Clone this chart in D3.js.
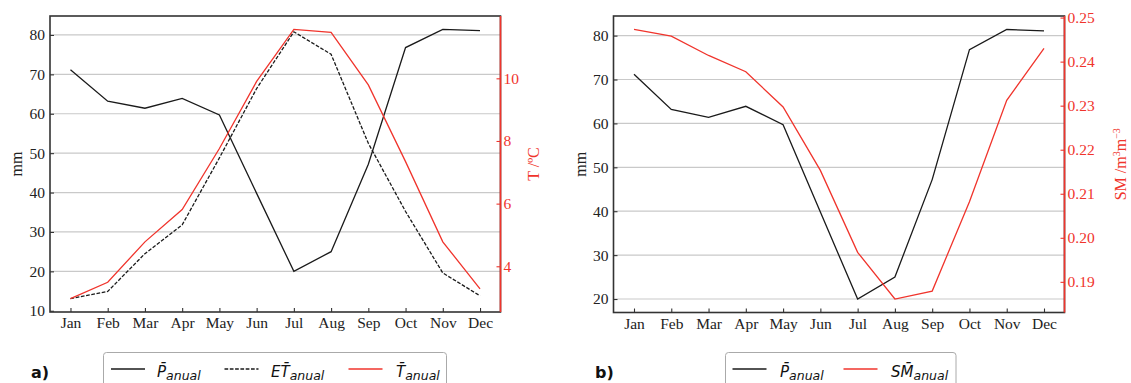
<!DOCTYPE html>
<html>
<head>
<meta charset="utf-8">
<script src="https://cdn.jsdelivr.net/npm/d3@7"></script>
<style>
html,body{margin:0;padding:0;background:#fff;}
svg{display:block;}
</style>
</head>
<body>
<svg id="chart" width="1131" height="383"></svg>
<script>
const months = ["Jan","Feb","Mar","Apr","May","Jun","Jul","Aug","Sep","Oct","Nov","Dec"];
const precip = [71.2,63.2,61.4,63.9,59.7,39.8,20.0,25.0,47.2,76.8,81.4,81.1];
const evapo = [13.1,14.9,24.5,31.8,48.8,66.4,80.8,75.1,52.5,35.2,19.6,13.8];
const temp = [2.97,3.49,4.78,5.81,7.76,9.9,11.56,11.47,9.79,7.34,4.78,3.28];
const soilMoist = [0.2473,0.2458,0.2414,0.2377,0.2297,0.2153,0.1967,0.1861,0.1879,0.2082,0.2312,0.2430];
const tempTicks = [4,6,8,10];
const smTicks = [0.19,0.20,0.21,0.22,0.23,0.24,0.25];

const RED = "#f0342c";
const DARK = "#333";
const svg = d3.select("#chart");

function padDomain(arr){
  const lo = d3.min(arr), hi = d3.max(arr), m = (hi-lo)*0.05;
  return [lo-m, hi+m];
}

function panel(o){
  const g = svg.append("g");
  const x = d3.scaleLinear().domain([-0.55, 11.55]).range([o.x0, o.x1]);
  const yL = d3.scaleLinear().domain(padDomain(o.leftData.flat())).range([o.y1, o.y0]);
  const yR = d3.scaleLinear().domain(padDomain(o.rightData)).range([o.y1, o.y0]);
  const leftTicks = yL.ticks(8).filter(v => yL(v) <= o.y1 + 1.5);

  g.append("g").selectAll("line").data(leftTicks.filter(v => yL(v) < o.y1 - 2)).join("line")
    .attr("x1", o.x0).attr("x2", o.x1)
    .attr("y1", d => yL(d)).attr("y2", d => yL(d))
    .attr("stroke", "#c9c9c9").attr("stroke-width", 1.2);

  const lineL = d3.line().x((d,i) => x(i)).y(d => yL(d));
  const lineR = d3.line().x((d,i) => x(i)).y(d => yR(d));
  o.leftData.forEach((s, k) => {
    g.append("path").attr("d", lineL(s)).attr("fill","none")
      .attr("stroke", "#1a1a1a").attr("stroke-width", 1.3)
      .attr("stroke-dasharray", o.leftDash[k] || null);
  });
  g.append("path").attr("d", lineR(o.rightData)).attr("fill","none")
    .attr("stroke", RED).attr("stroke-width", 1.3);

  g.append("rect").attr("x", o.x0).attr("y", o.y0).attr("width", o.x1-o.x0).attr("height", o.y1-o.y0)
    .attr("fill","none").attr("stroke", DARK).attr("stroke-width", 1.6);
  g.append("line").attr("x1", o.x1).attr("x2", o.x1).attr("y1", o.y0).attr("y2", o.y1)
    .attr("stroke", RED).attr("stroke-width", 1.6);

  const font = "'Liberation Serif', 'Times New Roman', serif";
  const ax = g.append("g").attr("transform", `translate(0,${o.y1})`)
    .call(d3.axisBottom(x).tickValues(d3.range(12)).tickFormat(i => months[i]).tickSizeInner(-4).tickSizeOuter(0).tickPadding(5));
  const al = g.append("g").attr("transform", `translate(${o.x0},0)`)
    .call(d3.axisLeft(yL).tickValues(leftTicks).tickFormat(d3.format("d")).tickSizeInner(-4).tickSizeOuter(0).tickPadding(5));
  const ar = g.append("g").attr("transform", `translate(${o.x1},0)`)
    .call(d3.axisRight(yR).tickValues(o.rightTicks).tickFormat(d3.format(o.rightFmt)).tickSizeInner(-4).tickSizeOuter(0).tickPadding(3));
  [ax, al, ar].forEach(a => {
    a.attr("font-family", font).attr("font-size", 15.5);
    a.select(".domain").remove();
    a.selectAll("text").style("font-family", font).style("font-size", "15.5px").attr("fill", "#222");
    a.selectAll("line").attr("stroke", DARK).attr("stroke-width", 1.1);
  });
  ar.selectAll("text").attr("fill", RED);
  ar.selectAll("line").attr("stroke", RED);

  g.append("text").attr("transform", `translate(${o.lLabX},${(o.y0+o.y1)/2}) rotate(-90)`)
    .attr("text-anchor","middle").attr("dy","0.35em").style("font-family", font).style("font-size","16px")
    .attr("fill","#222").text("mm");
  const rt = g.append("text").attr("transform", `translate(${o.rLabX},${(o.y0+o.y1)/2}) rotate(-90)`)
    .attr("text-anchor","middle").attr("dy","0.35em").style("font-family", font).style("font-size","16px")
    .attr("fill", RED);
  o.rightLabel(rt);

  g.append("text").attr("x", o.letterX).attr("y", 378).style("font-family","'DejaVu Sans', sans-serif")
    .attr("font-weight","bold").style("font-size","16px").attr("fill","#111").text(o.letter);

  const lg = g.append("g");
  lg.append("rect").attr("x", o.legX).attr("y", 352.5).attr("width", o.legW).attr("height", 50)
    .attr("rx", 3).attr("fill", "#fff").attr("stroke", "#aaa").attr("stroke-width", 1);
  o.legend.forEach(it => {
    lg.append("line").attr("x1", it.lx).attr("x2", it.lx + 34).attr("y1", 369).attr("y2", 369)
      .attr("stroke", it.color).attr("stroke-width", 1.3).attr("stroke-dasharray", it.dash || null);
    const t = lg.append("text").attr("x", it.tx).attr("y", 376.5).style("font-family","'DejaVu Sans', sans-serif")
      .attr("font-style","italic").attr("fill","#111");
    t.append("tspan").style("font-size","15px").text(it.main);
    t.append("tspan").style("font-size","12.5px").attr("dy", 3).text("anual");
  });
}

panel({
  x0: 50, x1: 500.5, y0: 16, y1: 312,
  leftData: [precip, evapo], leftDash: [null, "3.7,1.6"],
  rightData: temp, rightTicks: tempTicks, rightFmt: "d",
  lLabX: 16, rLabX: 533,
  rightLabel: t => { t.text("T /ºC"); },
  letter: "a)", letterX: 31,
  legX: 103.5, legW: 343,
  legend: [
    {lx: 111, tx: 157, color: "#1a1a1a", main: "P\u0304"},
    {lx: 224.5, tx: 271, color: "#1a1a1a", dash: "3.7,1.6", main: "ET\u0304"},
    {lx: 348.5, tx: 396, color: RED, main: "T\u0304"}
  ]
});

panel({
  x0: 613.5, x1: 1064.5, y0: 16, y1: 312.5,
  leftData: [precip], leftDash: [null],
  rightData: soilMoist, rightTicks: smTicks, rightFmt: ".2f",
  lLabX: 580, rLabX: 1120,
  rightLabel: t => {
    t.append("tspan").text("SM /m");
    t.append("tspan").style("font-size","10px").attr("dy","-6").text("3");
    t.append("tspan").attr("dy","6").text("m");
    t.append("tspan").style("font-size","10px").attr("dy","-6").text("\u22123");
  },
  letter: "b)", letterX: 595,
  legX: 725.5, legW: 230.5,
  legend: [
    {lx: 732.5, tx: 780, color: "#1a1a1a", main: "P\u0304"},
    {lx: 843.5, tx: 891, color: RED, main: "SM\u0304"}
  ]
});
</script>
</body>
</html>
